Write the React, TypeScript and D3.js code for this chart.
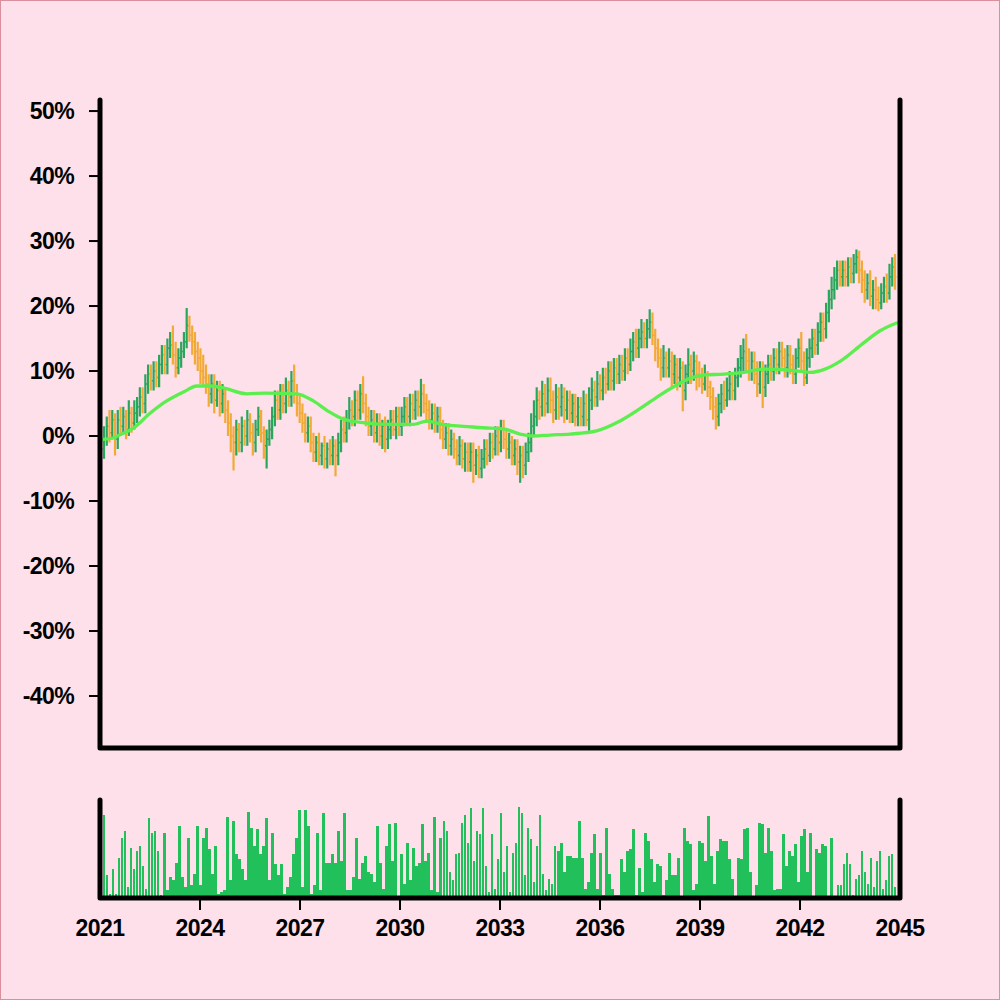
import React from 'react';
import * as d3 from 'd3';

// Monthly OHLC (percent), Jan 2021 – Dec 2044. Open = previous close.
const firstOpen = -2.0;
const closes = [
  -0.5, 1.5, 0.5, 2.5, -0.5, 2.5, 1.5, 3.0, 1.0, 3.5, 2.0, 3.5,
  4.5, 6.0, 5.0, 8.0, 9.5, 8.5, 10.0, 9.0, 11.0, 12.5, 11.0, 13.5,
  14.0, 12.5, 10.5, 12.0, 13.0, 14.5, 17.0, 15.5, 14.5, 13.0, 12.0, 10.0,
  9.0, 8.0, 6.5, 8.0, 5.5, 7.0, 5.0, 6.5, 4.0, 2.0, 0.0, -1.0,
  1.0, -1.0, 1.5, 0.0, 2.5, 0.5, -1.0, 1.0, 3.0, 0.5, -1.5, -0.5,
  1.0, 3.0, 5.5, 4.0, 6.5, 5.0, 7.0, 6.0, 8.5, 6.5, 5.0, 3.5,
  2.0, 0.5, 1.5, -1.0, -2.5, -1.0, -3.0, -1.5, -3.5, -2.0, -3.0, -1.5,
  -3.0, -1.0, 1.0, 0.5, 2.5, 4.0, 3.0, 5.5, 4.0, 6.5, 5.0, 3.0,
  1.5, 2.5, 0.5, 2.0, 0.0, 1.5, -0.5, 1.0, 2.5, 1.0, 3.0, 1.5,
  3.0, 4.5, 3.0, 5.0, 4.0, 5.5, 4.5, 6.5, 5.0, 4.0, 2.5, 3.5,
  2.0, 3.0, 1.0, -0.5, 0.5, -1.5, -0.5, -2.0, -3.0, -1.5, -3.5, -2.5,
  -4.0, -2.5, -4.5, -3.0, -5.0, -3.5, -2.0, -3.0, -1.0, -2.0, 0.0, -1.0,
  1.0, -0.5, -2.0, -1.0, -3.0, -2.0, -4.0, -3.0, -4.5, -2.5, -1.0, 1.5,
  3.0, 5.5, 4.5, 6.5, 5.0, 7.0, 5.5, 4.0, 6.0, 4.5, 6.0, 4.0,
  5.5, 3.5, 5.0, 3.0, 4.5, 3.0, 5.0, 2.5, 5.5, 7.0, 6.0, 8.0,
  7.0, 9.0, 8.0, 10.0, 8.5, 10.5, 9.5, 11.0, 10.0, 12.0, 11.0, 13.0,
  14.5, 13.5, 15.0, 16.0, 15.0, 16.5, 17.5, 15.5, 13.5, 12.0, 10.5, 12.0,
  10.5, 11.5, 9.5, 11.0, 9.0, 10.5, 7.0, 9.5, 11.0, 10.0, 11.5, 9.5,
  9.0, 8.0, 9.5, 7.5, 6.0, 4.5, 3.0, 5.0, 6.5, 5.5, 7.0, 8.0,
  7.0, 9.0, 10.5, 12.0, 13.0, 11.5, 10.0, 11.5, 9.5, 8.0, 10.0, 7.5,
  9.5, 11.0, 10.0, 12.0, 11.0, 13.0, 12.0, 10.5, 12.5, 11.0, 9.5, 12.0,
  13.5, 11.5, 9.0, 12.0, 13.5, 15.0, 14.0, 16.0, 17.5, 16.5, 19.0, 21.0,
  22.5, 24.0, 25.5, 24.5, 25.5, 24.5, 26.0, 25.0, 26.5, 27.5, 25.5, 24.0,
  22.5, 23.5, 21.5, 22.5, 21.0, 20.5, 22.0, 23.0, 22.0, 24.5, 26.0, 24.5,
];
const highs = [
  1.5, 3.0, 4.0, 4.0, 3.5, 4.0, 4.5, 4.5, 4.0, 5.5, 4.5, 5.5,
  6.0, 7.5, 7.5, 9.5, 11.0, 11.0, 11.5, 11.5, 12.5, 14.0, 14.0, 15.0,
  16.0, 17.0, 14.5, 13.5, 14.5, 16.0, 19.7, 18.5, 17.0, 16.0, 14.5, 13.5,
  12.5, 11.0, 9.5, 9.5, 9.5, 8.5, 8.5, 8.0, 7.5, 5.5, 3.5, 1.5,
  2.5, 2.0, 3.0, 2.5, 4.0, 3.5, 2.0, 2.5, 4.5, 4.0, 1.5, 1.0,
  2.5, 4.5, 7.0, 7.0, 8.0, 8.0, 9.0, 8.5, 10.0, 11.0, 8.0, 6.5,
  5.0, 3.5, 3.0, 3.0, 0.5, 0.0, 0.5, -1.0, 0.0, -1.0, -0.5, 0.0,
  -0.5, 0.5, 2.5, 3.0, 4.0, 6.0, 5.5, 7.0, 7.0, 8.0, 9.2, 6.5,
  4.5, 4.0, 4.0, 3.5, 3.5, 2.5, 3.0, 2.5, 4.0, 4.0, 4.5, 4.5,
  4.5, 6.0, 6.0, 6.5, 6.5, 7.0, 7.0, 8.8, 8.0, 6.5, 5.5, 5.0,
  5.0, 4.5, 4.5, 2.5, 2.0, 2.0, 1.0, 0.5, -0.5, 0.0, -0.5, -1.0,
  -1.0, -1.0, -1.0, -2.0, -1.5, -2.0, -0.5, -0.5, 0.5, 0.5, 1.5, 1.5,
  2.5, 2.5, 1.0, 0.5, 0.0, -0.5, -0.5, -1.5, -1.5, -1.0, 0.5, 3.5,
  5.5, 7.5, 7.0, 8.5, 8.0, 9.0, 9.0, 7.0, 8.0, 7.5, 8.0, 7.5,
  7.0, 7.0, 6.5, 6.5, 6.0, 6.0, 7.0, 6.5, 7.5, 9.0, 8.5, 10.0,
  9.5, 10.5, 10.5, 11.5, 11.5, 12.0, 12.0, 12.5, 12.5, 13.5, 13.5, 15.0,
  16.0, 16.5, 16.5, 18.0, 17.5, 18.0, 19.5, 19.0, 16.5, 15.0, 13.5, 14.0,
  13.0, 13.5, 13.0, 12.5, 12.0, 12.0, 11.5, 11.0, 13.5, 12.5, 13.0, 12.5,
  11.5, 10.5, 11.0, 10.0, 8.5, 7.5, 6.0, 6.5, 8.0, 8.5, 9.0, 10.0,
  9.5, 10.5, 12.0, 14.0, 15.0, 15.7, 13.5, 13.0, 13.0, 11.5, 11.5, 11.5,
  11.0, 12.5, 12.5, 13.5, 13.5, 14.5, 14.5, 13.5, 14.0, 14.0, 12.5, 13.5,
  15.0, 16.0, 13.0, 13.5, 15.0, 16.5, 16.5, 17.5, 19.0, 19.0, 20.5, 22.5,
  24.5, 26.0, 27.0, 27.0, 27.0, 27.0, 27.5, 27.5, 28.0, 28.7, 28.5, 27.0,
  25.5, 25.0, 25.5, 24.0, 24.5, 23.0, 23.5, 24.5, 25.0, 26.5, 27.5, 28.0,
];
const lows = [
  -3.5, -1.5, -1.0, -0.5, -3.0, -2.0, 0.0, 0.5, -0.5, 0.0, 0.5, 1.0,
  2.0, 3.0, 3.5, 3.5, 6.5, 7.0, 7.0, 7.5, 7.5, 9.5, 9.5, 9.5,
  12.0, 11.0, 9.0, 9.5, 10.5, 12.0, 13.5, 14.5, 12.5, 11.0, 10.0, 8.0,
  7.5, 6.5, 4.5, 5.0, 3.5, 4.5, 3.0, 3.5, 2.0, 0.0, -2.5, -5.3,
  -3.0, -2.5, -2.5, -1.5, -1.5, -1.0, -3.0, -2.5, 0.0, -1.0, -3.5, -5.0,
  -1.5, -0.5, 1.5, 2.5, 2.5, 3.5, 3.5, 4.5, 4.5, 5.0, 3.0, 2.0,
  0.5, -1.0, -1.0, -2.5, -4.0, -4.0, -4.5, -4.5, -5.0, -5.0, -4.5, -4.5,
  -6.2, -4.5, -2.5, -1.0, -1.0, 1.0, 1.5, 1.5, 2.5, 2.5, 3.5, 1.5,
  0.0, 0.0, -1.0, -1.0, -1.5, -2.0, -2.5, -2.0, -0.5, 0.0, -0.5, 0.0,
  0.0, 1.5, 1.5, 1.5, 2.5, 2.5, 3.0, 3.0, 3.5, 2.0, 1.0, 1.0,
  0.5, 0.5, -0.5, -2.0, -2.0, -3.0, -3.0, -3.5, -4.5, -4.5, -5.0, -5.5,
  -5.5, -5.5, -7.2, -6.0, -6.5, -6.5, -5.0, -4.5, -4.0, -3.5, -3.0, -3.0,
  -2.5, -2.0, -3.5, -3.5, -4.5, -4.5, -6.0, -7.2, -6.5, -6.0, -4.0, -2.5,
  0.0, 1.5, 2.5, 3.0, 3.0, 3.5, 3.5, 2.0, 2.5, 2.5, 3.0, 2.0,
  2.5, 2.0, 2.0, 1.5, 1.5, 1.5, 1.5, 1.5, 0.8, 4.0, 4.5, 4.5,
  5.5, 5.5, 6.5, 7.0, 7.0, 7.0, 8.0, 8.0, 8.5, 8.5, 9.5, 10.0,
  11.5, 12.0, 12.0, 13.5, 13.5, 13.5, 15.0, 14.0, 11.5, 10.5, 8.5, 9.0,
  9.0, 9.0, 7.5, 8.0, 7.0, 7.5, 3.8, 5.5, 8.0, 8.0, 8.5, 7.0,
  7.5, 6.5, 7.0, 6.0, 4.0, 2.5, 1.0, 1.5, 3.5, 4.0, 4.5, 5.5,
  5.5, 5.5, 7.5, 9.0, 10.0, 10.0, 8.5, 8.5, 8.0, 6.0, 6.5, 4.3,
  6.0, 8.0, 8.5, 8.5, 9.5, 9.5, 10.5, 9.0, 9.0, 9.5, 8.0, 8.0,
  10.5, 10.0, 7.7, 8.0, 10.5, 12.0, 12.5, 12.5, 14.5, 14.5, 15.0, 17.5,
  19.5, 21.0, 22.5, 23.0, 23.0, 23.0, 23.0, 23.5, 23.5, 25.0, 23.5, 22.0,
  20.5, 21.0, 20.0, 19.5, 19.5, 19.2, 19.5, 20.5, 20.5, 21.0, 23.0, 22.5,
];

// Volume (relative units)
const volumes = [
  80, 22, 3, 27, 3, 38, 58, 65, 10, 48, 27, 45, 50, 30, 8, 77, 63, 65, 45, 2,
  63, 7, 20, 17, 33, 70, 20, 10, 58, 12, 23, 70, 12, 58, 68, 47, 23, 50, 3, 5,
  7, 78, 17, 75, 42, 37, 27, 17, 83, 68, 50, 67, 42, 50, 77, 17, 63, 32, 22, 32,
  3, 10, 20, 42, 58, 85, 10, 85, 70, 3, 12, 63, 7, 82, 33, 33, 42, 33, 65, 35,
  82, 7, 7, 20, 58,
  18, 33, 40, 25, 23, 15, 70, 33, 8, 50, 72, 35, 73, 1, 42, 13, 53, 17, 48, 30,
  33, 72, 35, 43, 7, 78, 5, 58, 75, 65, 25, 17, 42, 43, 73, 80, 53, 87, 35, 65,
  62, 87, 30, 5, 62, 8, 37, 82, 25, 50, 5, 43, 53, 88, 82, 22, 68, 57, 15, 50,
  80, 23, 7, 18, 13, 50, 45, 53, 25, 40, 40, 38, 38, 75, 38, 8, 15, 43, 62, 8,
  43, 2, 68, 23, 8, 2, 2, 37, 25, 45, 47, 67, 2, 28, 5, 63,
  55, 37, 15, 32, 30, 2, 17, 43, 22, 22, 38, 1, 68, 55, 52, 7, 13, 55, 53, 35,
  79, 40, 13, 45, 57, 55, 55, 37, 18, 1, 38, 37, 67, 68, 25, 1, 12, 73, 72, 43,
  68, 45, 7, 8, 8, 62, 30, 45, 40, 52, 15, 60, 67, 25, 63, 1, 47, 43, 52, 50,
  1, 58, 1, 12, 12, 32, 43, 32, 2, 18, 22, 45, 25, 13, 38, 10, 35, 45, 8, 17,
  40, 42, 10,
];

// Moving average line (year, percent)
const maYears = [
  2021.09, 2021.39, 2021.6, 2022.0, 2022.5, 2023.0, 2023.55, 2023.9, 2024.3, 2024.7,
  2025.4, 2025.95, 2026.9, 2027.4, 2027.85, 2028.3, 2029.0, 2029.7, 2030.4, 2030.8,
  2031.35, 2031.9, 2032.7, 2033.1, 2033.6, 2034.0, 2034.5, 2035.1, 2035.9, 2036.6,
  2037.2, 2037.8, 2038.25, 2038.7, 2039.15, 2039.6, 2040.2, 2040.9, 2041.55, 2042.3,
  2042.75, 2043.2, 2043.9, 2044.4, 2044.9,
];
const maValues = [
  -0.5, -0.3, 0.2, 1.2, 3.5, 5.4, 6.9, 7.7, 7.7, 7.4,
  6.5, 6.6, 6.5, 5.4, 3.8, 2.6, 2.0, 1.8, 1.8, 2.3,
  1.7, 1.5, 1.2, 1.1, 0.3, 0.0, 0.15, 0.3, 0.8, 2.3,
  4.2, 6.3, 7.7, 8.9, 9.4, 9.5, 9.7, 10.3, 10.2, 9.8,
  10.3, 11.5, 14.3, 16.2, 17.4,
];

const yTickValues = [-40, -30, -20, -10, 0, 10, 20, 30, 40, 50];
const xTickYears = [2021, 2024, 2027, 2030, 2033, 2036, 2039, 2042, 2045];

const UP = '#2aa55c';
const DOWN = '#f2a935';
const MA_COLOR = '#5cee4e';
const VOL_COLOR = '#22c05a';
const BG = '#fde0e9';
const FONT = '"Liberation Sans", Arial, Helvetica, sans-serif';

export default function App() {
  const left = 100;
  const right = 900;
  const priceTop = 100;
  const priceBottom = 748;
  const volTop = 800;
  const volBottom = 898;

  const y = d3.scaleLinear().domain([-48, 51.7]).range([priceBottom, priceTop]);
  const xIdx = d3.scaleLinear().domain([0, closes.length - 1]).range([104, 895]);
  const xYear = d3.scaleLinear().domain([2021, 2045]).range([left, right]);
  const xVol = d3.scaleLinear().domain([0, volumes.length - 1]).range([104, 895]);
  const yVol = d3.scaleLinear().domain([0, 100]).range([897, 795]);

  const opens = closes.map((c, i) => (i === 0 ? firstOpen : closes[i - 1]));

  const maPath =
    d3
      .line<number>()
      .x((_, i) => xYear(maYears[i]))
      .y((d) => y(d))
      .curve(d3.curveMonotoneX)(maValues) || '';

  const step = xVol(1) - xVol(0);
  const volWidth = Math.max(1, step * 0.9);

  return (
    <svg
      width={1000}
      height={1000}
      style={{ position: 'absolute', left: 0, top: 0, display: 'block' }}
    >
      <rect x={0} y={0} width={1000} height={1000} fill={BG} />
      <rect x={0.5} y={0.5} width={999} height={999} fill="none" stroke="#d98f9d" strokeWidth={1} />

      {/* OHLC bars */}
      <g>
        {closes.map((c, i) => {
          const o = opens[i];
          const hi = Math.max(highs[i], o, c);
          const lo = Math.min(lows[i], o, c);
          const cx = xIdx(i);
          const col = c >= o ? UP : DOWN;
          return (
            <g key={i} stroke={col}>
              <line x1={cx} x2={cx} y1={y(hi)} y2={y(lo)} strokeWidth={2.2} />
              <line x1={cx - 1.5} x2={cx} y1={y(o)} y2={y(o)} strokeWidth={1.5} />
              <line x1={cx} x2={cx + 1.5} y1={y(c)} y2={y(c)} strokeWidth={1.5} />
            </g>
          );
        })}
      </g>

      {/* Moving average */}
      <path d={maPath} fill="none" stroke={MA_COLOR} strokeWidth={3.3} strokeLinejoin="round" strokeLinecap="round" />

      {/* Volume bars */}
      <g fill={VOL_COLOR} shapeRendering="crispEdges">
        {volumes.map((v, i) => (
          <rect
            key={i}
            x={xVol(i) - volWidth / 2}
            y={yVol(v)}
            width={volWidth}
            height={yVol(0) - yVol(v)}
          />
        ))}
      </g>

      {/* Price panel frame */}
      <path
        d={`M${left},${priceTop} L${left},${priceBottom} L${right},${priceBottom} L${right},${priceTop}`}
        fill="none"
        stroke="#000"
        strokeWidth={5}
        strokeLinecap="round"
        strokeLinejoin="round"
      />
      {/* Volume panel frame */}
      <path
        d={`M${left},${volTop} L${left},${volBottom} L${right},${volBottom} L${right},${volTop}`}
        fill="none"
        stroke="#000"
        strokeWidth={5}
        strokeLinecap="round"
        strokeLinejoin="round"
      />

      {/* Y ticks */}
      <g fontFamily={FONT} fontWeight="bold" fontSize={23} fill="#000">
        {yTickValues.map((v) => (
          <g key={v}>
            <line x1={89} x2={left} y1={y(v)} y2={y(v)} stroke="#000" strokeWidth={2} />
            <text x={74} y={y(v)} dy="0.36em" textAnchor="end" letterSpacing={-0.6}>
              {`${v}%`}
            </text>
          </g>
        ))}
      </g>

      {/* X ticks */}
      <g fontFamily={FONT} fontWeight="bold" fontSize={23} fill="#000">
        {xTickYears.map((yr, i) => (
          <g key={yr}>
            {i > 0 && i < xTickYears.length - 1 && (
              <line x1={xYear(yr)} x2={xYear(yr)} y1={volBottom} y2={910} stroke="#000" strokeWidth={2} />
            )}
            <text x={xYear(yr)} y={936} textAnchor="middle" letterSpacing={-0.6}>
              {yr}
            </text>
          </g>
        ))}
      </g>
    </svg>
  );
}
